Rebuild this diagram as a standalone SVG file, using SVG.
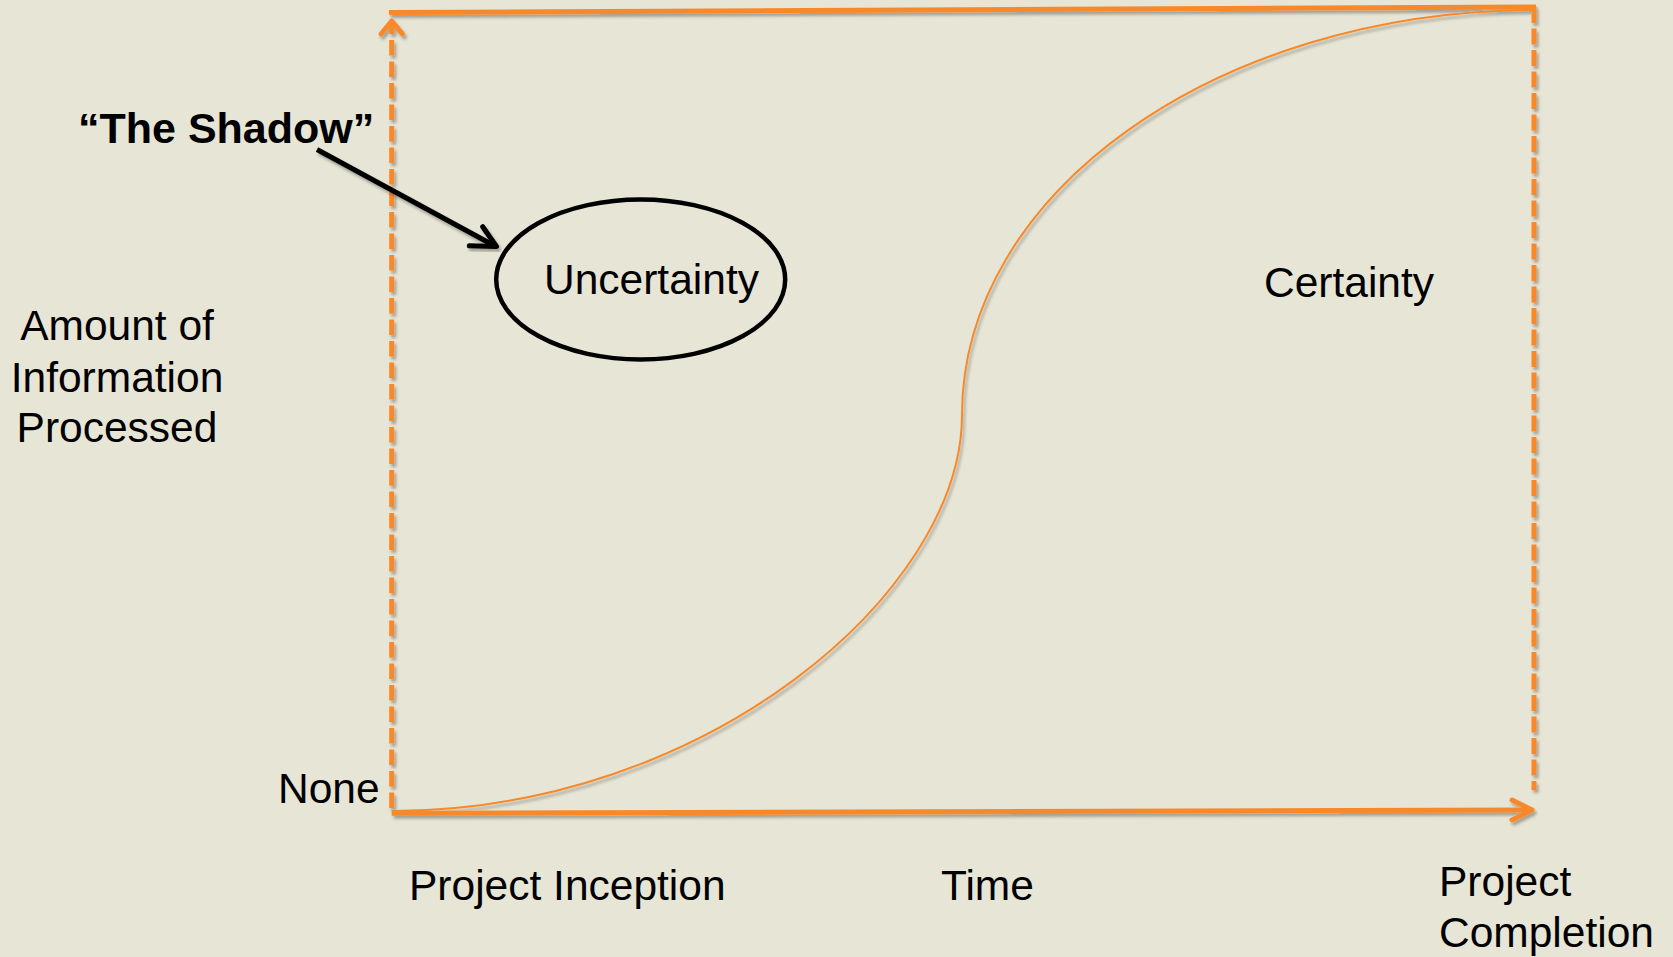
<svg xmlns="http://www.w3.org/2000/svg" width="1673" height="957" viewBox="0 0 1673 957">
  <defs>
    <filter id="sh" x="-5%" y="-5%" width="110%" height="110%">
      <feDropShadow dx="2" dy="3" stdDeviation="1.8" flood-color="#000" flood-opacity="0.3"/>
    </filter>
    <style>
      .ax { stroke: #F7892A; stroke-width: 5; fill: none; }
      .dash { stroke-dasharray: 15.5 6; }
      .head { stroke: #F7892A; stroke-width: 5; fill: none; stroke-linecap: round; stroke-linejoin: round; }
      .curve { stroke: #F7892A; stroke-width: 2; fill: none; }
      .t { font-family: "Liberation Sans", Arial, sans-serif; font-size: 42.5px; fill: #000; }
      .b { font-weight: bold; font-size: 43px; }
    </style>
  </defs>
  <rect width="1673" height="957" fill="#E7E5D5"/>

  <g id="connectors" filter="url(#sh)">
    <line class="ax" x1="389" y1="12.5" x2="1536" y2="7"/>
    <line class="ax dash" x1="391.7" y1="808" x2="391.7" y2="22"/>
    <polyline class="head" points="381,34 391.7,21 402.5,34"/>
    <line class="ax" style="stroke-dasharray:16 5.5" x1="1534" y1="7" x2="1534" y2="790"/>
    <line class="ax" x1="391.7" y1="813.3" x2="1530" y2="810"/>
    <polyline class="head" points="1512,800 1532,810 1512,820"/>
    <path class="curve" d="M391.7,811 C706,811 962,592 962,415 C962,192 1217,12 1532,10"/>
  </g>

  <g id="shadow-arrow" filter="url(#sh)">
    <line x1="317" y1="149.5" x2="494" y2="245.5" stroke="#000" stroke-width="5"/>
    <polyline points="482.7,226.7 496.5,246.5 469.3,245.7" fill="none" stroke="#000" stroke-width="5" stroke-linecap="round" stroke-linejoin="round"/>
  </g>

  <g id="label-shadow">
    <text class="t b" x="78" y="143">“The Shadow”</text>
  </g>

  <g id="uncertainty">
    <ellipse cx="640.7" cy="279.5" rx="144.5" ry="80" fill="none" stroke="#000" stroke-width="4.5"/>
    <text class="t" x="544" y="294">Uncertainty</text>
  </g>

  <g id="certainty">
    <text class="t" x="1264" y="296.5">Certainty</text>
  </g>

  <g id="y-label">
    <text class="t" text-anchor="middle" x="117" y="340">Amount of</text>
    <text class="t" text-anchor="middle" x="117" y="391.5">Information</text>
    <text class="t" text-anchor="middle" x="117" y="441.5">Processed</text>
  </g>

  <g id="none-label">
    <text class="t" x="278" y="803">None</text>
  </g>

  <g id="inception">
    <text class="t" x="409" y="900">Project Inception</text>
  </g>

  <g id="time">
    <text class="t" x="941" y="900">Time</text>
  </g>

  <g id="completion">
    <text class="t" x="1439" y="896">Project</text>
    <text class="t" x="1439" y="947">Completion</text>
  </g>
</svg>
